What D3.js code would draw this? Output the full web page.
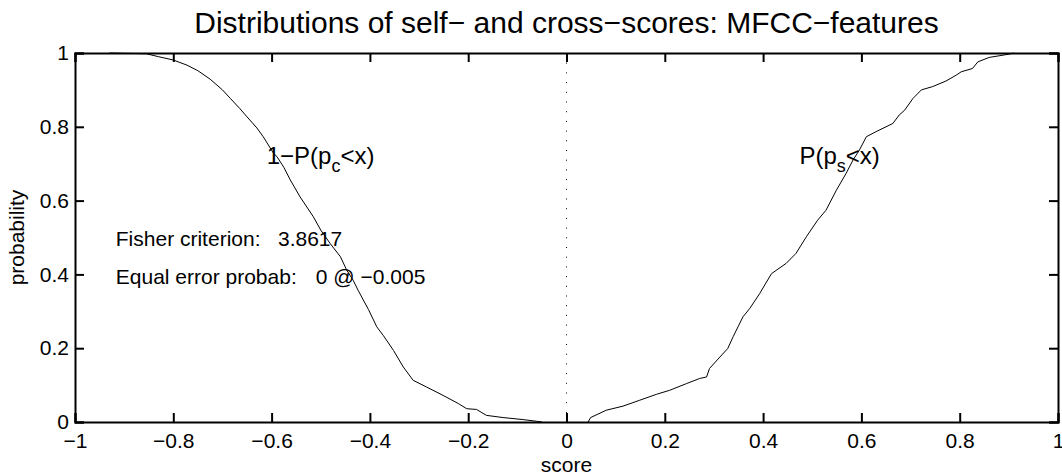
<!DOCTYPE html>
<meta charset="utf-8">
<html>
  <head>
    <title>Distributions of self- and cross-scores</title>
    <style>
      body { margin: 0; background: #fff; font-family: "Liberation Sans", Arial, sans-serif; }
    </style>
  </head>
  <body>
    <div id="chart"></div>
    <script src="https://d3js.org/d3.v7.min.js"></script>
    <script>

      // data
      const crossScore = [-0.93, -0.855, -0.83, -0.80, -0.772, -0.75, -0.725, -0.70, -0.684, -0.665, -0.65, -0.63, -0.617, -0.596, -0.589, -0.575, -0.562, -0.542, -0.515, -0.50, -0.481, -0.46, -0.447, -0.434, -0.424, -0.403, -0.386, -0.373, -0.352, -0.332, -0.312, -0.285, -0.251, -0.22, -0.203, -0.183, -0.163, -0.129, -0.088, -0.061, -0.05];
      const crossProb  = [1.0, 0.998, 0.99, 0.981, 0.967, 0.952, 0.929, 0.90, 0.877, 0.85, 0.827, 0.797, 0.773, 0.728, 0.719, 0.69, 0.656, 0.61, 0.556, 0.52, 0.484, 0.448, 0.411, 0.384, 0.357, 0.305, 0.258, 0.235, 0.194, 0.149, 0.113, 0.095, 0.072, 0.05, 0.036, 0.034, 0.018, 0.012, 0.0065, 0.002, 0];

      const selfScore = [0.044, 0.049, 0.081, 0.115, 0.149, 0.183, 0.21, 0.244, 0.271, 0.285, 0.291, 0.312, 0.328, 0.339, 0.349, 0.359, 0.373, 0.393, 0.417, 0.447, 0.467, 0.488, 0.511, 0.528, 0.549, 0.569, 0.583, 0.596, 0.61, 0.63, 0.664, 0.677, 0.688, 0.705, 0.722, 0.745, 0.772, 0.793, 0.803, 0.826, 0.837, 0.86, 0.901, 0.91];
      const selfProb  = [0, 0.012, 0.032, 0.043, 0.059, 0.075, 0.086, 0.104, 0.118, 0.122, 0.145, 0.176, 0.199, 0.231, 0.258, 0.285, 0.308, 0.348, 0.402, 0.43, 0.457, 0.502, 0.547, 0.574, 0.628, 0.674, 0.71, 0.737, 0.773, 0.787, 0.809, 0.832, 0.845, 0.877, 0.90, 0.909, 0.924, 0.94, 0.949, 0.958, 0.976, 0.988, 0.997, 1.0];

      const xTicks = [-1, -0.8, -0.6, -0.4, -0.2, 0, 0.2, 0.4, 0.6, 0.8, 1];
      const yTicks = [0, 0.2, 0.4, 0.6, 0.8, 1];

      const fisher = "3.8617";
      const eer = "0";
      const eerAt = "−0.005";

      const margin = {top: 53, right: 4, bottom: 53, left: 75},
          width = 1062 - margin.left - margin.right,
          height = 475 - margin.top - margin.bottom;

      const svg = d3.select("#chart")
        .append("svg")
          .attr("width", 1062)
          .attr("height", 475)
        .append("g")
          .attr("transform", `translate(${margin.left}, ${margin.top})`);

      const xScale = d3.scaleLinear().domain([-1, 1]).range([0, width]);
      const yScale = d3.scaleLinear().domain([0, 1]).range([height, 0]);

      // matlab style minus sign
      const fmt = d => d3.format("")(d).replace("-", "−");

      // axes, ticks pointing inwards
      svg.append("g")
        .attr("class", "axis")
        .attr("transform", `translate(0, ${height})`)
        .call(d3.axisBottom(xScale).tickValues(xTicks).tickSize(-9).tickPadding(11).tickFormat(fmt));
      svg.append("g")
        .attr("class", "axis")
        .call(d3.axisTop(xScale).tickValues(xTicks).tickSize(-9).tickFormat(""));
      svg.append("g")
        .attr("class", "axis")
        .call(d3.axisLeft(yScale).tickValues(yTicks).tickSize(-9).tickPadding(6).tickFormat(fmt));
      svg.append("g")
        .attr("class", "axis")
        .attr("transform", `translate(${width}, 0)`)
        .call(d3.axisRight(yScale).tickValues(yTicks).tickSize(-9).tickFormat(""));

      svg.selectAll(".axis path, .axis line")
        .attr("stroke", "#000")
        .attr("stroke-width", 2);
      svg.selectAll(".axis text")
        .attr("fill", "#000")
        .style("font-size", "21px")
        .style("font-family", "Liberation Sans, Arial, sans-serif");

      // dotted line at zero
      svg.append("line")
        .attr("x1", xScale(0)).attr("x2", xScale(0))
        .attr("y1", yScale(1)).attr("y2", yScale(0))
        .attr("stroke", "#000")
        .attr("stroke-width", 1)
        .attr("stroke-dasharray", "1,8.7");

      const line = d3.line()
        .x(d => xScale(d[0]))
        .y(d => yScale(d[1]));

      const cross = d3.zip(crossScore, crossProb);
      const self = d3.zip(selfScore, selfProb);

      svg.append("path")
        .datum(cross)
        .attr("fill", "none")
        .attr("stroke", "#000")
        .attr("stroke-width", 1)
        .attr("d", line);

      svg.append("path")
        .datum(self)
        .attr("fill", "none")
        .attr("stroke", "#000")
        .attr("stroke-width", 1)
        .attr("d", line);

      // curve labels with subscripts
      function curveLabel(x, y, pre, sub, post) {
        const t = svg.append("text")
          .attr("x", xScale(x))
          .attr("y", yScale(y))
          .style("font-size", "24px");
        t.append("tspan").text(pre);
        t.append("tspan").attr("dy", 8).style("font-size", "18px").text(sub);
        t.append("tspan").attr("dy", -8).text(post);
      }
      curveLabel(-0.61, 0.70, "1−P(p", "c", "<x)");
      curveLabel(0.474, 0.70, "P(p", "s", "<x)");

      // fisher / eer text
      svg.append("text")
        .attr("x", xScale(-0.917)).attr("y", yScale(0.478))
        .style("font-size", "21px")
        .text("Fisher criterion:");
      svg.append("text")
        .attr("x", xScale(-0.587)).attr("y", yScale(0.478))
        .style("font-size", "21px")
        .text(fisher);
      svg.append("text")
        .attr("x", xScale(-0.917)).attr("y", yScale(0.375))
        .style("font-size", "21px")
        .text("Equal error probab:");
      svg.append("text")
        .attr("x", xScale(-0.51)).attr("y", yScale(0.375))
        .style("font-size", "21px")
        .text(eer + " @ " + eerAt);

      // axis labels and title
      svg.append("text")
        .attr("x", width / 2)
        .attr("y", height + 50)
        .attr("text-anchor", "middle")
        .style("font-size", "21px")
        .text("score");

      svg.append("text")
        .attr("transform", `translate(${-51}, ${height / 2}) rotate(-90)`)
        .attr("text-anchor", "middle")
        .style("font-size", "21px")
        .text("probability");

      svg.append("text")
        .attr("x", width / 2)
        .attr("y", -20)
        .attr("text-anchor", "middle")
        .style("font-size", "30px")
        .text("Distributions of self− and cross−scores: MFCC−features");

    </script>
  </body>
</html>
